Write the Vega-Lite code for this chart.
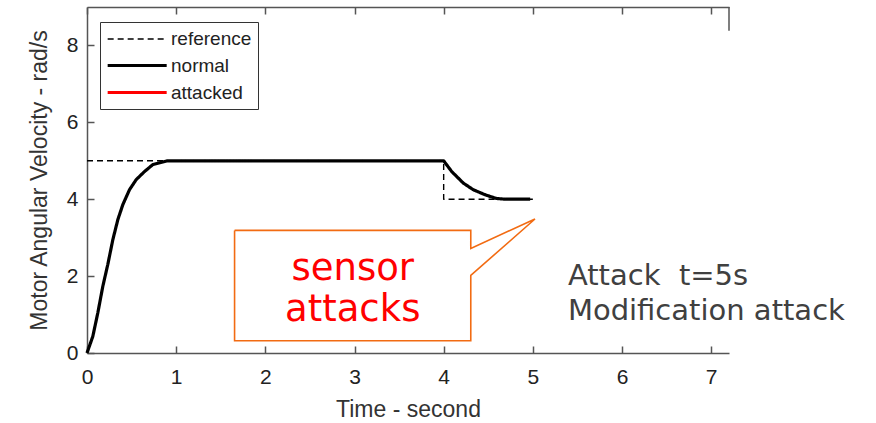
{
  "$schema": "https://vega.github.io/schema/vega-lite/v6.json",
  "width": 642,
  "height": 346,
  "autosize": {"type": "none"},
  "padding": {"left": 87, "top": 7, "right": 147, "bottom": 70},
  "background": "white",
  "config": {
    "view": {"stroke": null},
    "axis": {
      "grid": false,
      "domainColor": "#555555",
      "domainWidth": 1.5,
      "tickColor": "#555555",
      "tickWidth": 1.5,
      "tickSize": -7,
      "labelFlush": false,
      "labelFont": "Liberation Sans",
      "labelFontSize": 21,
      "labelColor": "#222222",
      "titleFont": "Liberation Sans",
      "titleFontSize": 23,
      "titleFontWeight": "normal",
      "titleColor": "#333333"
    },
    "legend": {
      "orient": "none",
      "legendX": 13,
      "legendY": 15,
      "fillColor": "white",
      "strokeColor": "#333333",
      "padding": 6,
      "symbolType": "M-1,0H5",
      "symbolSize": 387,
      "labelFont": "Liberation Sans",
      "labelFontSize": 19,
      "labelColor": "#222222",
      "labelOffset": 42,
      "rowPadding": 5
    }
  },
  "datasets": {
    "curves": [
      {"series": "reference", "i": 1, "t": 0, "v": 5},
      {"series": "reference", "i": 2, "t": 4, "v": 5},
      {"series": "reference", "i": 3, "t": 4, "v": 4},
      {"series": "reference", "i": 4, "t": 5, "v": 4},
      {"series": "normal", "i": 1, "t": 0, "v": 0},
      {"series": "normal", "i": 2, "t": 0.065, "v": 0.43},
      {"series": "normal", "i": 3, "t": 0.121, "v": 1.04},
      {"series": "normal", "i": 4, "t": 0.177, "v": 1.73},
      {"series": "normal", "i": 5, "t": 0.233, "v": 2.3},
      {"series": "normal", "i": 6, "t": 0.29, "v": 2.95},
      {"series": "normal", "i": 7, "t": 0.346, "v": 3.47},
      {"series": "normal", "i": 8, "t": 0.402, "v": 3.86},
      {"series": "normal", "i": 9, "t": 0.477, "v": 4.25},
      {"series": "normal", "i": 10, "t": 0.552, "v": 4.51},
      {"series": "normal", "i": 11, "t": 0.645, "v": 4.72},
      {"series": "normal", "i": 12, "t": 0.738, "v": 4.9},
      {"series": "normal", "i": 13, "t": 0.851, "v": 4.97},
      {"series": "normal", "i": 14, "t": 0.9, "v": 5.0},
      {"series": "normal", "i": 15, "t": 4.0, "v": 5.0},
      {"series": "normal", "i": 16, "t": 4.09, "v": 4.72},
      {"series": "normal", "i": 17, "t": 4.22, "v": 4.42},
      {"series": "normal", "i": 18, "t": 4.33, "v": 4.25},
      {"series": "normal", "i": 19, "t": 4.46, "v": 4.12},
      {"series": "normal", "i": 20, "t": 4.59, "v": 4.02},
      {"series": "normal", "i": 21, "t": 4.69, "v": 4.0},
      {"series": "normal", "i": 22, "t": 4.97, "v": 4.0}
    ],
    "callout": [
      {"i": 1, "t": 1.655, "v": 3.189},
      {"i": 2, "t": 4.304, "v": 3.189},
      {"i": 3, "t": 4.304, "v": 2.72},
      {"i": 4, "t": 5.024, "v": 3.485},
      {"i": 5, "t": 4.304, "v": 2.018},
      {"i": 6, "t": 4.304, "v": 0.32},
      {"i": 7, "t": 1.655, "v": 0.32},
      {"i": 8, "t": 1.655, "v": 3.189}
    ],
    "redtext": [
      {"label": "sensor", "t": 2.98, "v": 1.906},
      {"label": "attacks", "t": 2.98, "v": 0.822}
    ],
    "graytext": [
      {"label": "Attack\u00a0 t=5s", "t": 5.393, "v": 1.777},
      {"label": "Modification attack", "t": 5.393, "v": 0.866}
    ],
    "frame": [
      {"t": 7.2, "v": 9, "v2": 8.38}
    ]
  },
  "layer": [
    {
      "data": {"name": "frame"},
      "mark": {"type": "rule", "color": "#555555", "strokeWidth": 1.5},
      "encoding": {
        "x": {
          "field": "t", "type": "quantitative",
          "scale": {"domain": [0, 7.2], "nice": false, "zero": false},
          "axis": {"orient": "top", "labels": false, "title": null, "values": [0, 1, 2, 3, 4, 5, 6, 7]}
        },
        "y": {"field": "v", "type": "quantitative"},
        "y2": {"field": "v2"}
      }
    },
    {
      "data": {"name": "callout"},
      "mark": {"type": "line", "color": "#F26B12", "strokeWidth": 1.6, "strokeJoin": "miter"},
      "encoding": {
        "x": {"field": "t", "type": "quantitative", "axis": null},
        "y": {"field": "v", "type": "quantitative"},
        "order": {"field": "i", "type": "quantitative"}
      }
    },
    {
      "data": {"name": "curves"},
      "mark": {"type": "line", "strokeJoin": "round", "strokeCap": "butt"},
      "encoding": {
        "x": {
          "field": "t", "type": "quantitative",
          "axis": {"orient": "bottom", "title": "Time - second", "values": [0, 1, 2, 3, 4, 5, 6, 7], "labelPadding": 20, "titlePadding": 11}
        },
        "y": {
          "field": "v", "type": "quantitative",
          "scale": {"domain": [0, 9], "nice": false},
          "axis": {"title": "Motor Angular Velocity - rad/s", "values": [0, 2, 4, 6, 8], "labelPadding": 16, "titlePadding": 15}
        },
        "color": {
          "field": "series", "type": "nominal",
          "scale": {"domain": ["reference", "normal", "attacked"], "range": ["#000000", "#000000", "#ff0000"]},
          "legend": {"title": null}
        },
        "strokeDash": {
          "field": "series", "type": "nominal",
          "scale": {"domain": ["reference", "normal", "attacked"], "range": [[6, 4], [1, 0], [1, 0]]},
          "legend": {"title": null}
        },
        "strokeWidth": {
          "field": "series", "type": "nominal",
          "scale": {"type": "ordinal", "domain": ["reference", "normal", "attacked"], "range": [1.4, 3.2, 3.2]},
          "legend": {"title": null}
        },
        "order": {"field": "i", "type": "quantitative"}
      }
    },
    {
      "data": {"name": "redtext"},
      "mark": {"type": "text", "font": "DejaVu Sans", "fontSize": 37, "color": "#ff0000", "align": "center", "baseline": "alphabetic"},
      "encoding": {
        "x": {"field": "t", "type": "quantitative", "axis": null},
        "y": {"field": "v", "type": "quantitative"},
        "text": {"field": "label"}
      }
    },
    {
      "data": {"name": "graytext"},
      "mark": {"type": "text", "font": "DejaVu Sans", "fontSize": 29, "color": "#404040", "align": "left", "baseline": "alphabetic"},
      "encoding": {
        "x": {"field": "t", "type": "quantitative", "axis": null},
        "y": {"field": "v", "type": "quantitative"},
        "text": {"field": "label"}
      }
    }
  ],
  "resolve": {"axis": {"x": "independent"}}
}
